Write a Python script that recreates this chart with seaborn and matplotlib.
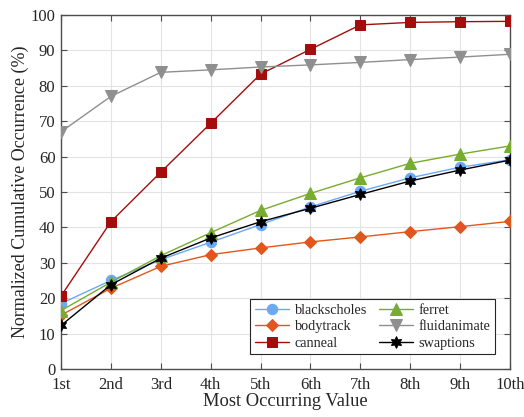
import numpy as np
import pandas as pd
import matplotlib
matplotlib.use("Agg")
import matplotlib.pyplot as plt
import seaborn as sns

# data
ranks = ["1st", "2nd", "3rd", "4th", "5th", "6th", "7th", "8th", "9th", "10th"]
blackscholes = [18.5, 25.0, 30.9, 35.8, 40.8, 45.8, 50.2, 54.0, 57.0, 59.1]
bodytrack = [15.2, 22.8, 29.0, 32.3, 34.2, 35.9, 37.3, 38.8, 40.2, 41.7]
canneal = [20.6, 41.6, 55.6, 69.4, 83.3, 90.3, 97.2, 97.9, 98.1, 98.2]
ferret = [16.5, 24.5, 32.0, 38.5, 44.8, 49.6, 54.0, 58.1, 60.7, 63.0]
fluidanimate = [67.0, 77.0, 83.8, 84.5, 85.3, 85.9, 86.6, 87.4, 88.1, 88.9]
swaptions = [12.3, 23.8, 31.3, 37.0, 41.6, 45.4, 49.3, 53.1, 56.2, 59.0]

series = {
    "blackscholes": blackscholes,
    "bodytrack": bodytrack,
    "canneal": canneal,
    "ferret": ferret,
    "fluidanimate": fluidanimate,
    "swaptions": swaptions,
}
colors = {
    "blackscholes": "#6aa9f7",
    "bodytrack": "#e2561b",
    "canneal": "#a50d0d",
    "ferret": "#77ac30",
    "fluidanimate": "#8f8f8f",
    "swaptions": "#000000",
}
markers = {
    "blackscholes": "o",
    "bodytrack": "D",
    "canneal": "s",
    "ferret": "^",
    "fluidanimate": "v",
    "swaptions": (6, 1, 0),
}
msizes = {"blackscholes": 7.5, "bodytrack": 6.5, "canneal": 6.5,
          "ferret": 8, "fluidanimate": 8, "swaptions": 8.5}

sns.set_style("ticks")
plt.rcParams["font.family"] = ["Liberation Serif", "DejaVu Serif"]

fig = plt.figure(figsize=(5.24, 4.17), dpi=100)
ax = fig.add_axes([0.1164, 0.1151, 0.8569, 0.849])

x = np.arange(1, len(ranks) + 1)
for name, vals in series.items():
    df = pd.DataFrame({"x": x, "y": vals})
    sns.lineplot(data=df, x="x", y="y", ax=ax, color=colors[name],
                 marker=markers[name], markersize=msizes[name],
                 markeredgecolor=colors[name], markerfacecolor=colors[name],
                 linewidth=1.0, label=name, zorder=3)

ax.set_xlim(1, 10)
ax.set_ylim(0, 100)
ax.set_xticks(x)
ax.set_xticklabels(ranks)
ax.set_yticks(np.arange(0, 101, 10))
ax.grid(True, color="#e3e3e3", linewidth=0.8)
ax.set_axisbelow(True)
ax.tick_params(direction="in", top=True, right=True, labelsize=12,
               length=4, width=0.8, color="#4d4d4d", pad=4)
ax.tick_params(axis="x", pad=6)
for sp in ax.spines.values():
    sp.set_linewidth(1.0)
    sp.set_color("#4d4d4d")
    sp.set_visible(True)

ax.set_xlabel("Most Occurring Value", fontsize=13.3, labelpad=0)
ax.set_ylabel("Normalized Cumulative Occurrence (%)", fontsize=13, labelpad=1)

leg = ax.legend(loc="lower right", ncol=2, fontsize=10.3, frameon=True,
                fancybox=False, edgecolor="#262626", framealpha=1,
                handlelength=2.4, handletextpad=0.4, columnspacing=0.8,
                labelspacing=0.25, borderpad=0.3, bbox_to_anchor=(0.982, 0.022))
leg.get_frame().set_linewidth(0.8)

fig.savefig("out.png", dpi=100)
